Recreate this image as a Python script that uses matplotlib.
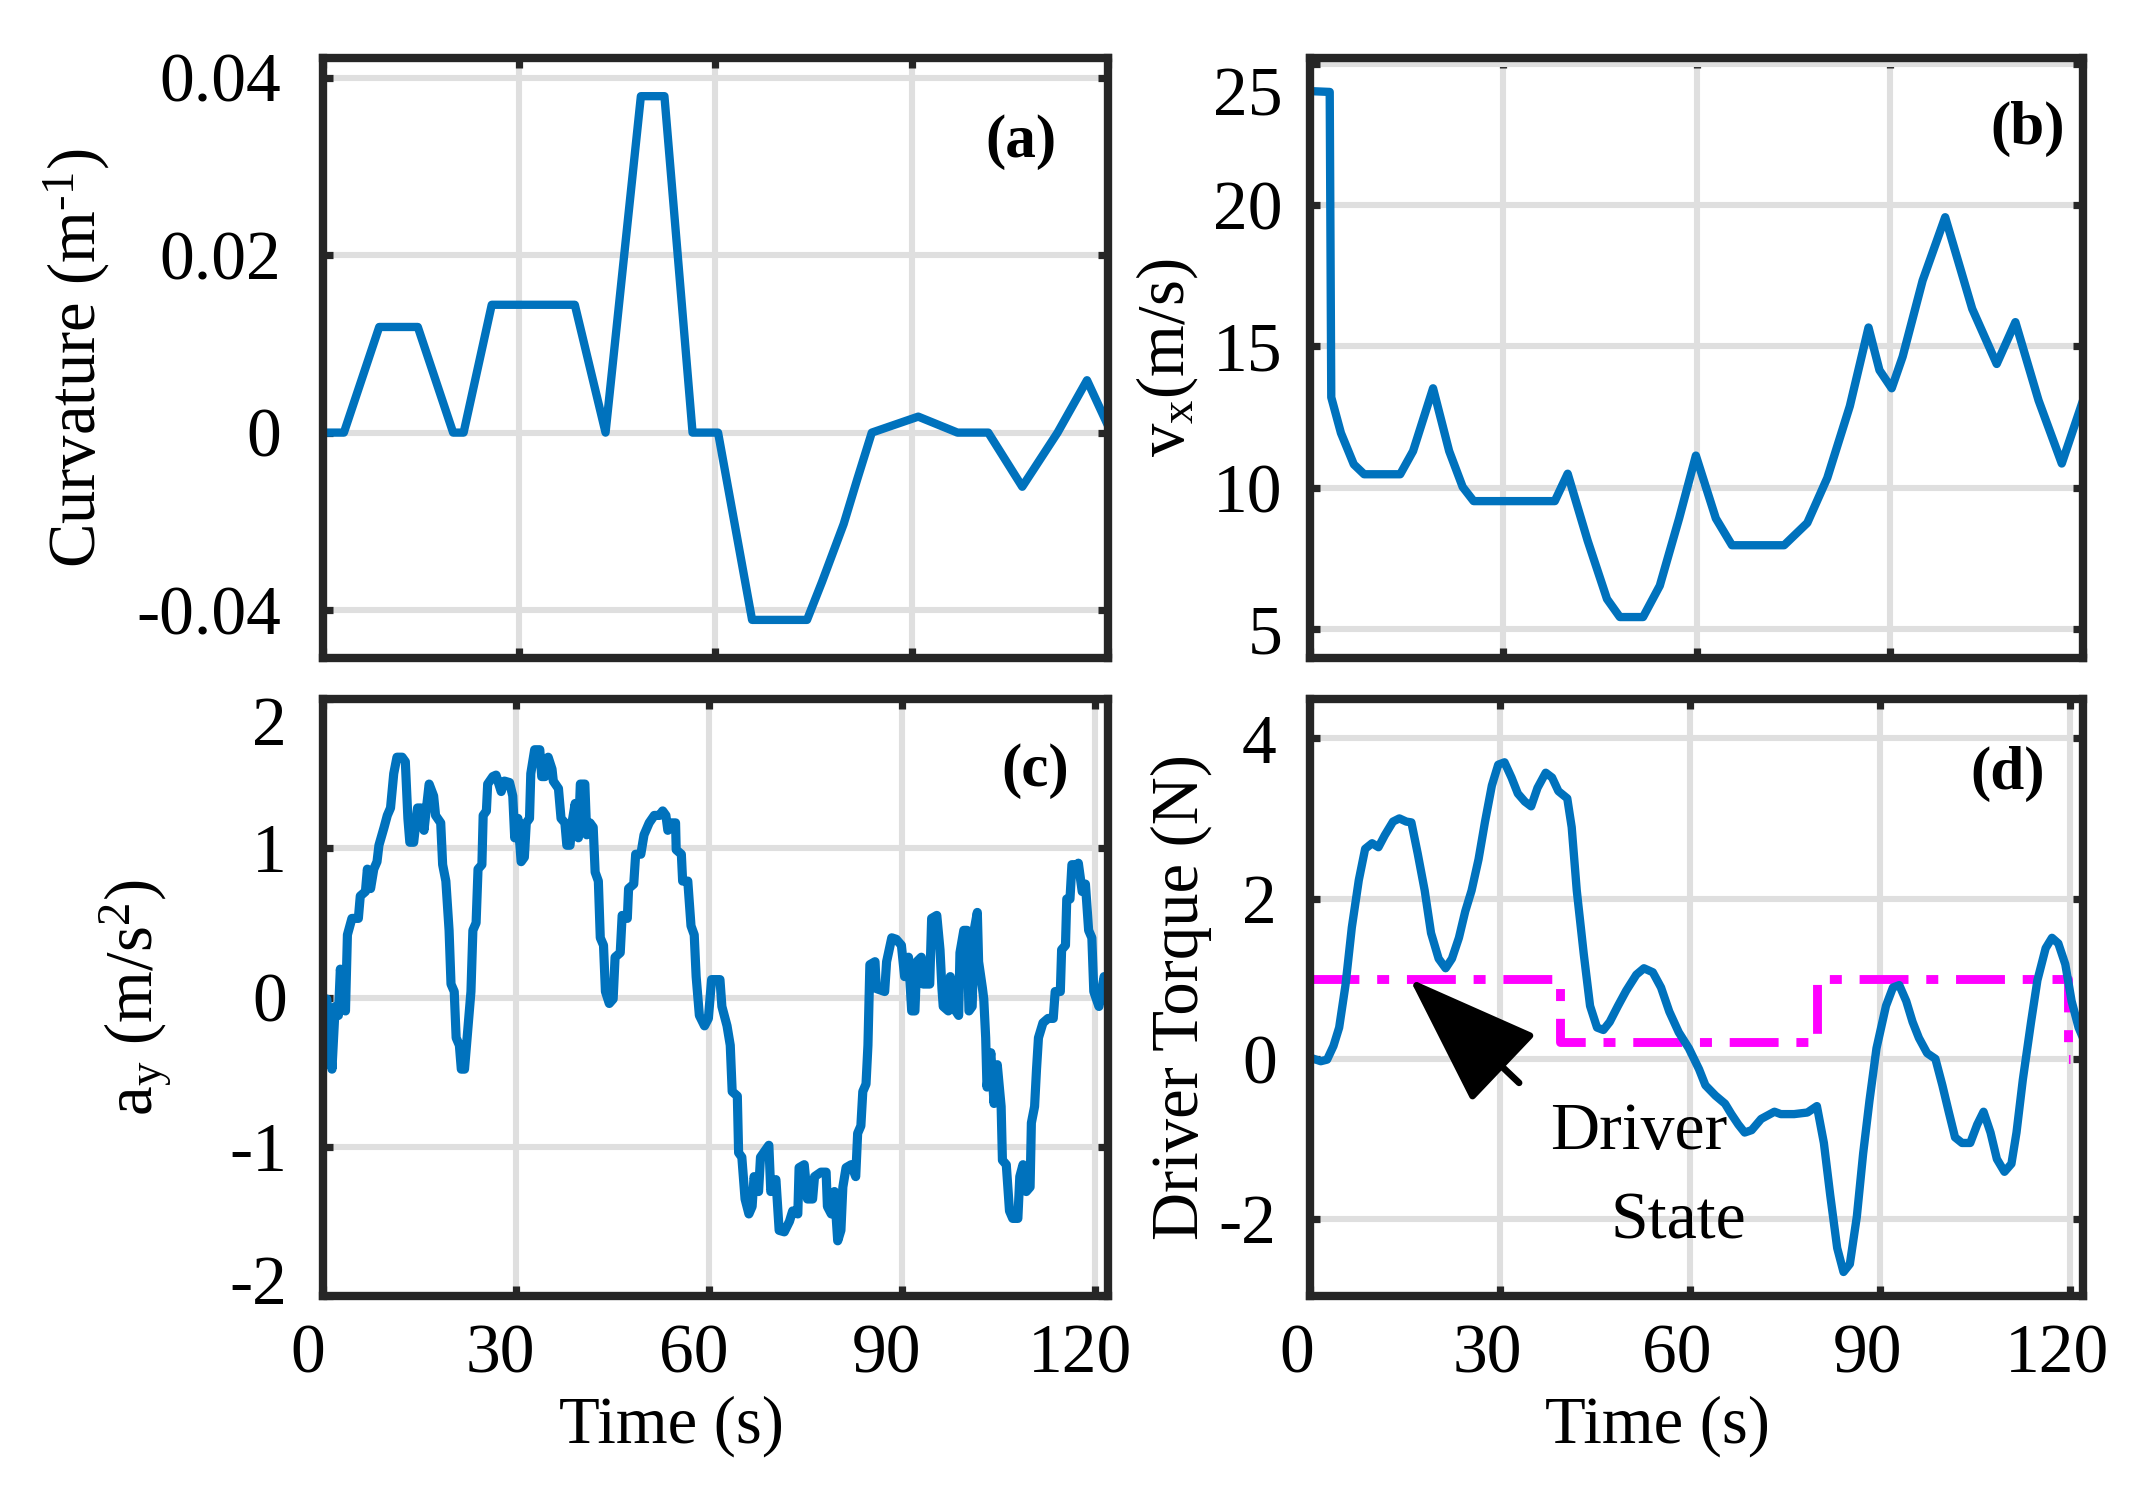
import matplotlib
matplotlib.use("Agg")
import matplotlib.pyplot as plt
from matplotlib.transforms import ScaledTranslation

plt.rcParams["font.family"] = ["Liberation Serif", "DejaVu Serif"]
plt.rcParams["mathtext.fontset"] = "custom"
plt.rcParams["mathtext.rm"] = "Liberation Serif"
plt.rcParams["mathtext.it"] = "Liberation Serif:italic"
plt.rcParams["axes.unicode_minus"] = False

# (a) road curvature (plotted in axis units; the lowest tick is labelled -0.04 as in the figure)
t_curv = [0, 3.2, 8.6, 14.5, 19.9, 21.5, 25.8, 38.5, 43.2, 48.6, 52.2, 56.5, 60.4,
          65.6, 74.0, 76.3, 79.6, 81.7, 83.9, 91.0, 97.0, 101.7, 106.9, 112.3, 116.8, 120.0]
curv = [0, 0, 0.0119, 0.0119, 0, 0, 0.0144, 0.0144, 0, 0.0379, 0.0379, 0, 0,
        -0.0211, -0.0211, -0.0168, -0.0103, -0.0052, 0, 0.0018, 0, 0, -0.0061, 0, 0.0059, 0.0008]

# (b) longitudinal speed
t_vx = [0, 3.06, 3.3, 4.8, 6.8, 8.4, 14.0, 16.0, 19.1, 21.6, 23.7, 25.4, 38.0, 40.0,
        43.1, 46.1, 48.1, 51.7, 54.3, 57.3, 59.9, 63.0, 65.5, 73.6, 77.2, 80.3, 83.8,
        86.7, 88.4, 90.3, 92.0, 95.1, 98.6, 102.8, 106.6, 109.5, 113.1, 116.7, 120.0]
vx = [24.03, 24.0, 13.2, 11.94, 10.83, 10.48, 10.48, 11.3, 13.52, 11.3, 10.03, 9.53, 9.53, 10.5,
      8.13, 6.07, 5.43, 5.43, 6.54, 8.92, 11.14, 8.92, 7.97, 7.97, 8.76, 10.35, 12.89,
      15.67, 14.16, 13.52, 14.64, 17.33, 19.57, 16.33, 14.38, 15.86, 13.09, 10.86, 13.09]

# (c) lateral acceleration
t_ay = [0.1, 0.6, 1.4, 1.9, 2.4, 2.7, 3.5, 3.8, 4.5, 5.5, 5.8, 6.6, 6.9, 7.4, 7.9, 8.4,
        8.7, 9.5, 10.0, 10.5, 11.0, 11.5, 12.3, 12.8, 13.2, 13.5, 14.1, 14.7, 15.2, 15.7,
        16.5, 17.2, 17.5, 18.3, 18.6, 19.1, 19.6, 19.9, 20.4, 20.7, 21.2, 21.5, 22.0, 22.5,
        23.0, 23.3, 23.8, 24.1, 24.7, 24.9, 25.4, 25.6, 26.4, 26.9, 27.7, 28.2, 29.0, 29.5,
        29.8, 30.3, 30.8, 31.3, 31.6, 32.1, 32.3, 32.9, 33.7, 34.0, 34.5, 35.0, 35.6, 35.8,
        36.6, 37.0, 37.6, 37.9, 38.4, 38.7, 39.2, 39.7, 40.0, 40.7, 41.0, 41.5, 42.0, 42.3,
        42.8, 43.1, 43.6, 43.9, 44.5, 45.1, 45.4, 46.2, 46.5, 47.3, 47.5, 48.3, 48.6, 49.4,
        49.9, 50.4, 50.7, 51.5, 52.3, 52.8, 53.3, 53.6, 54.1, 54.8, 54.9, 55.7, 55.9, 56.7,
        57.2, 57.7, 58.0, 58.5, 59.3, 59.9, 60.4, 61.7, 62.0, 62.8, 63.3, 63.6, 64.4, 64.6,
        65.1, 65.6, 66.2, 66.7, 67.0, 67.7, 68.0, 69.3, 69.6, 70.4, 70.9, 71.7, 72.5, 73.0,
        73.8, 74.0, 74.8, 75.3, 76.1, 76.4, 77.4, 78.2, 78.4, 79.0, 79.5, 80.0, 80.5, 80.8,
        81.3, 82.1, 82.8, 83.1, 83.6, 83.9, 84.4, 84.7, 85.0, 85.8, 86.0, 87.3, 87.6, 88.4,
        89.1, 89.9, 90.4, 91.0, 91.5, 92.0, 92.3, 93.0, 93.3, 94.3, 94.6, 95.4, 95.9, 96.2,
        96.4, 97.2, 97.5, 97.9, 98.8, 99.0, 99.6, 100.1, 100.4, 100.9, 101.2, 101.7, 101.9,
        102.5, 102.7, 103.0, 103.2, 103.8, 104.3, 104.8, 105.4, 105.6, 106.2, 106.7, 107.2,
        108.0, 108.3, 108.8, 109.3, 109.9, 110.1, 110.6, 110.9, 111.2, 111.9, 112.7, 113.5,
        113.8, 114.6, 114.8, 115.4, 115.6, 116.1, 116.4, 117.2, 117.4, 118.0, 118.5, 119.0,
        119.5, 119.8, 120.6, 121.4, 122.0]
ay = [-0.06, -0.01, -0.48, -0.06, -0.12, 0.19, -0.09, 0.42, 0.53, 0.53, 0.68, 0.71, 0.86, 0.73, 0.86, 0.91,
      1.02, 1.14, 1.22, 1.27, 1.50, 1.61, 1.61, 1.58, 1.20, 1.04, 1.04, 1.27, 1.27, 1.12,
      1.43, 1.35, 1.22, 1.17, 0.89, 0.78, 0.45, 0.09, 0.04, -0.27, -0.32, -0.48, -0.48, -0.22,
      0.04, 0.45, 0.50, 0.86, 0.89, 1.22, 1.25, 1.43, 1.48, 1.49, 1.38, 1.45, 1.44, 1.35,
      1.07, 1.20, 0.91, 0.94, 1.17, 1.20, 1.50, 1.66, 1.66, 1.48, 1.48, 1.61, 1.53, 1.45,
      1.40, 1.20, 1.17, 1.02, 1.02, 1.17, 1.30, 1.07, 1.43, 1.43, 1.09, 1.17, 1.14, 0.84,
      0.78, 0.40, 0.35, 0.04, -0.04, -0.01, 0.27, 0.30, 0.55, 0.53, 0.73, 0.76, 0.96, 0.96,
      1.09, 1.14, 1.17, 1.22, 1.22, 1.25, 1.22, 1.12, 1.17, 1.17, 0.99, 0.96, 0.78, 0.78,
      0.48, 0.42, 0.14, -0.12, -0.19, -0.14, 0.12, 0.12, -0.06, -0.19, -0.32, -0.63, -0.66, -1.04,
      -1.07, -1.35, -1.45, -1.40, -1.20, -1.30, -1.07, -0.99, -1.30, -1.22, -1.56, -1.57, -1.50, -1.43,
      -1.45, -1.14, -1.12, -1.35, -1.35, -1.20, -1.17, -1.17, -1.40, -1.45, -1.30, -1.63, -1.56, -1.27,
      -1.14, -1.12, -1.20, -0.91, -0.86, -0.63, -0.58, -0.32, 0.22, 0.24, 0.06, 0.04, 0.24, 0.40,
      0.39, 0.35, 0.14, 0.27, -0.09, -0.09, 0.24, 0.27, 0.09, 0.09, 0.53, 0.55, 0.32, 0.06,
      -0.06, -0.09, 0.14, -0.06, -0.12, 0.30, 0.45, 0.45, -0.09, -0.06, 0.45, 0.57, 0.24,
      0.06, -0.01, -0.27, -0.60, -0.37, -0.71, -0.45, -0.73, -1.09, -1.12, -1.43, -1.48,
      -1.48, -1.20, -1.12, -1.30, -1.27, -0.84, -0.73, -0.48, -0.27, -0.17, -0.14, -0.14,
      0.04, 0.04, 0.32, 0.35, 0.66, 0.66, 0.89, 0.89, 0.90, 0.71, 0.76, 0.45,
      0.40, 0.04, -0.06, 0.14, 0.07]

# (d) driver torque and driver state
t_tq = [0.2, 1.7, 2.7, 3.7, 4.6, 5.6, 6.6, 7.7, 8.7, 9.8, 10.8, 11.8, 13.1, 14.1, 15.2,
        16.0, 17.0, 18.1, 19.1, 20.3, 21.4, 22.4, 23.5, 24.5, 25.5, 26.6, 27.6, 28.7, 29.7,
        30.7, 31.8, 32.8, 33.9, 34.9, 35.9, 37.2, 38.2, 39.2, 40.6, 41.3, 42.1, 43.2, 44.2,
        45.3, 46.3, 47.3, 48.6, 49.9, 51.5, 52.7, 54.1, 55.4, 56.7, 58.2, 59.8, 61.4, 62.4,
        64.0, 65.5, 66.5, 67.6, 68.6, 69.7, 71.2, 73.3, 74.3, 76.4, 78.5, 80.0, 81.1, 82.1,
        83.2, 84.2, 85.2, 86.3, 87.3, 88.3, 89.4, 90.9, 92.0, 93.0, 94.1, 95.1, 96.1, 97.4,
        98.7, 99.8, 100.8, 101.8, 102.9, 104.2, 105.3, 106.3, 107.4, 108.4, 109.6, 110.7,
        111.5, 112.5, 113.8, 114.8, 116.1, 117.1, 118.1, 119.2, 120.2, 121.3, 122.0]
torque = [0.01, -0.03, -0.01, 0.16, 0.39, 0.92, 1.64, 2.23, 2.62, 2.69, 2.64, 2.79, 2.96, 3.0, 2.96,
          2.95, 2.56, 2.10, 1.57, 1.25, 1.13, 1.25, 1.51, 1.84, 2.10, 2.49, 2.95, 3.41, 3.67,
          3.70, 3.51, 3.31, 3.21, 3.15, 3.38, 3.57, 3.51, 3.34, 3.25, 2.89, 2.10, 1.31, 0.66,
          0.39, 0.36, 0.46, 0.66, 0.85, 1.05, 1.13, 1.08, 0.89, 0.59, 0.33, 0.13, -0.13, -0.33,
          -0.46, -0.56, -0.69, -0.82, -0.92, -0.89, -0.75, -0.66, -0.69, -0.69, -0.67, -0.59, -1.05, -1.70,
          -2.36, -2.66, -2.56, -1.97, -1.18, -0.52, 0.13, 0.66, 0.89, 0.92, 0.72, 0.46, 0.26, 0.07,
          0.0, -0.33, -0.66, -0.98, -1.05, -1.05, -0.82, -0.66, -0.92, -1.25, -1.41, -1.31,
          -0.92, -0.26, 0.46, 0.98, 1.38, 1.51, 1.44, 1.18, 0.72, 0.39, 0.26]
t_state = [0, 39.5, 80.0, 119.6, 120.0]
state = [1.0, 0.21, 1.0, 0.0, 0.0]

x_ticks = [0, 30, 60, 90, 120]

blue = "#0072BD"
dark = "#262626"

fig = plt.figure(figsize=(10.68, 7.495), dpi=200)
ax_a = fig.add_axes([0.1512, 0.561, 0.3675, 0.4003])
ax_b = fig.add_axes([0.6133, 0.561, 0.3619, 0.4003])
ax_c = fig.add_axes([0.1512, 0.1354, 0.3675, 0.3983])
ax_d = fig.add_axes([0.6133, 0.1354, 0.3619, 0.3983])


def style(ax, xmax, ylim, ypad):
    ax.set_xlim(0, xmax)
    ax.set_ylim(*ylim)
    ax.set_xticks(x_ticks)
    ax.grid(True, color="#dfdfdf", lw=2.2)
    ax.set_axisbelow(True)
    ax.tick_params(axis="both", direction="in", top=True, right=True, length=3.5,
                   width=2.6, color=dark, labelsize=25, labelcolor="k")
    ax.tick_params(axis="y", pad=ypad)
    ax.tick_params(axis="x", pad=10)
    for s in ax.spines.values():
        s.set_linewidth(3.0)
        s.set_color(dark)


def shift(label, dx_pt, dy_pt):
    label.set_transform(label.get_transform()
                        + ScaledTranslation(dx_pt / 72, dy_pt / 72, fig.dpi_scale_trans))


ax_a.plot(t_curv, curv, color=blue, lw=3.0)
style(ax_a, 120, (-0.0254, 0.0422), 15)
ax_a.set_yticks([-0.02, 0, 0.02, 0.04])
ax_a.set_yticklabels(["-0.04", "0", "0.02", "0.04"])
ax_a.tick_params(labelbottom=False)
ax_a.set_ylabel("Curvature (m$^{\\mathrm{\u20101}}$)", fontsize=24)
ax_a.yaxis.set_label_coords(-0.269, 0.5)
ax_a.text(0.889, 0.86, "(a)", transform=ax_a.transAxes, fontsize=22,
          fontweight="bold", ha="center", va="center")

ax_b.plot(t_vx, vx, color=blue, lw=3.0)
style(ax_b, 120, (3.98, 25.2), 10)
ax_b.set_yticks([5, 10, 15, 20, 25])
ax_b.tick_params(labelbottom=False)
ax_b.set_ylabel("v$_{\\mathrm{x}}$(m/s)", fontsize=24)
ax_b.yaxis.set_label_coords(-0.142, 0.5)
ax_b.text(0.928, 0.882, "(b)", transform=ax_b.transAxes, fontsize=22,
          fontweight="bold", ha="center", va="center")

ax_c.plot(t_ay, ay, color=blue, lw=3.3)
style(ax_c, 122, (-2, 2), 13)
ax_c.set_yticks([-2, -1, 0, 1, 2])
ax_c.set_ylabel("a$_{\\mathrm{y}}$ (m/s$^{\\mathrm{2}}$)", fontsize=24)
ax_c.yaxis.set_label_coords(-0.19, 0.5)
ax_c.set_xlabel("Time (s)", fontsize=24, labelpad=3)
ax_c.xaxis.label.set_x(0.444)
ax_c.text(0.907, 0.879, "(c)", transform=ax_c.transAxes, fontsize=22,
          fontweight="bold", ha="center", va="center")

ax_d.plot(t_state, state, color="#FF00FF", lw=3.2, drawstyle="steps-post",
          dashes=[5.5, 2.0, 1.35, 2.0])
ax_d.plot(t_tq, torque, color=blue, lw=3.0)
style(ax_d, 122, (-2.96, 4.49), 12)
ax_d.set_yticks([-2, 0, 2, 4])
ax_d.set_ylabel("Driver Torque (N)", fontsize=24)
ax_d.yaxis.set_label_coords(-0.127, 0.5)
ax_d.set_xlabel("Time (s)", fontsize=24, labelpad=3)
ax_d.xaxis.label.set_x(0.450)
ax_d.text(0.903, 0.874, "(d)", transform=ax_d.transAxes, fontsize=22,
          fontweight="bold", ha="center", va="center")
ax_d.annotate("", xy=(15.7, 1.0), xytext=(33.0, -0.30),
              arrowprops=dict(arrowstyle="-|>,head_length=4.2,head_width=1.5",
                              mutation_scale=10, lw=2.4, color="k",
                              shrinkA=0, shrinkB=0), zorder=5)
ax_d.text(51.8, -1.12, "Driver", fontsize=24.5, ha="center", va="baseline")
ax_d.text(58.1, -2.24, "State", fontsize=24.5, ha="center", va="baseline")

# tick labels that sit slightly off their ticks in the figure
shift(ax_b.yaxis.get_major_ticks()[4].label1, 0, -10)
shift(ax_c.yaxis.get_major_ticks()[4].label1, 0, -8)
shift(ax_c.yaxis.get_major_ticks()[0].label1, 0, 6)
for tk in ax_c.xaxis.get_major_ticks():
    shift(tk.label1, -5.5, 0)
for tk in ax_d.xaxis.get_major_ticks():
    shift(tk.label1, -4.7, 0)

fig.savefig("out.png", dpi=200)
